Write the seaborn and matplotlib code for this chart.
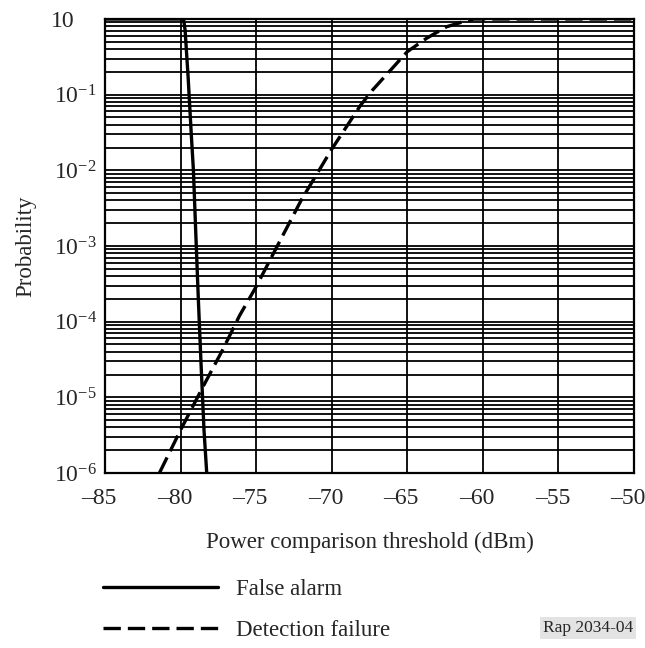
import matplotlib
matplotlib.use("Agg")
import matplotlib.pyplot as plt
import matplotlib.transforms as mtransforms
from matplotlib.ticker import FixedLocator, LogLocator, NullFormatter
import seaborn as sns

# values
fa_threshold = [-85, -79.8, -79.7, -79.5, -79.3, -79.15, -79.0, -78.83, -78.65, -78.45, -78.27]
fa_prob = [1, 1, 0.71, 0.17, 0.032, 0.01, 1.6e-3, 2.1e-4, 2.9e-5, 3.7e-6, 1e-6]

df_threshold = [-81.4, -80.0, -78.5, -77.2, -76.1, -75.0, -73.6, -72.0, -70.0,
                -68.1, -67.3, -65.0, -63.7, -62.4, -61.3, -60.6, -50]
df_prob = [1e-6, 3.7e-6, 1.4e-5, 4.3e-5, 1.2e-4, 2.9e-4, 1e-3, 4.1e-3, 0.019,
           0.072, 0.115, 0.37, 0.56, 0.79, 0.92, 1, 1]

x_ticks = [-85, -80, -75, -70, -65, -60, -55, -50]
y_ticks = [1e-6, 1e-5, 1e-4, 1e-3, 1e-2, 1e-1, 1]
y_tick_labels = ["$10^{-6}$", "$10^{-5}$", "$10^{-4}$", "$10^{-3}$",
                 "$10^{-2}$", "$10^{-1}$", "10"]

sns.set_style("white")
plt.rcParams["font.family"] = ["Liberation Serif", "DejaVu Serif"]
plt.rcParams["mathtext.fontset"] = "custom"
plt.rcParams["mathtext.rm"] = "Liberation Serif"
plt.rcParams["mathtext.it"] = "Liberation Serif:italic"
plt.rcParams["mathtext.bf"] = "Liberation Serif:bold"

fig = plt.figure(figsize=(6.45, 6.48), dpi=100)
ax = fig.add_axes([105 / 645, 1 - 473 / 648, 529 / 645, 454 / 648])

sns.lineplot(x=fa_threshold, y=fa_prob, ax=ax, color="black", lw=2.4,
             label="False alarm")
sns.lineplot(x=df_threshold, y=df_prob, ax=ax, color="black", lw=2.4,
             linestyle=(0, (5.2, 2.1)), label="Detection failure")

ax.set_yscale("log")
ax.set_xlim(-85, -50)
ax.set_ylim(1e-6, 1)

ax.xaxis.set_major_locator(FixedLocator(x_ticks))
ax.set_xticklabels([f"\u2013{abs(v)}" for v in x_ticks])
ax.yaxis.set_major_locator(FixedLocator(y_ticks))
ax.set_yticklabels(y_tick_labels)
ax.yaxis.set_minor_locator(LogLocator(base=10, subs=range(2, 10), numticks=20))
ax.yaxis.set_minor_formatter(NullFormatter())

ax.grid(which="both", axis="y", color="black", lw=1.3)
ax.grid(which="major", axis="x", color="black", lw=1.3)
ax.tick_params(axis="both", which="both", length=0, labelsize=17)
ax.tick_params(axis="x", pad=11)
ax.tick_params(axis="y", pad=6)
for s in ax.spines.values():
    s.set_color("black")
    s.set_linewidth(1.6)

# digits centred on the tick, dash hanging to the left
shift_x = mtransforms.ScaledTranslation(-6 / 100, 0, fig.dpi_scale_trans)
for lab in ax.get_xticklabels():
    lab.set_transform(lab.get_transform() + shift_x)
# top label "10" sits where the base of the power labels sits
top = ax.get_yticklabels()[-1]
top.set_transform(top.get_transform() + mtransforms.ScaledTranslation(-22 / 100, 0, fig.dpi_scale_trans))

ax.set_xlabel("Power comparison threshold (dBm)", fontsize=16.5)
ax.xaxis.set_label_coords(0.5, -0.13)
ax.set_ylabel("Probability", fontsize=16.5, va="center")
ax.yaxis.set_label_coords(-0.15, 0.5)

handles, labels = ax.get_legend_handles_labels()
ax.legend(handles, labels, loc="upper left", bbox_to_anchor=(103 / 645, 1 - 579 / 648),
          bbox_transform=fig.transFigure, frameon=False, fontsize=16.5,
          handlelength=5.02, handletextpad=0.8, labelspacing=0.85,
          borderpad=0, borderaxespad=0)

fig.text(588 / 645, 1 - 628 / 648, "Rap 2034-04", fontsize=12.5, ha="center",
         va="center", bbox=dict(facecolor="#e3e3e3", edgecolor="none", pad=2))

fig.savefig("out.png", dpi=100)
